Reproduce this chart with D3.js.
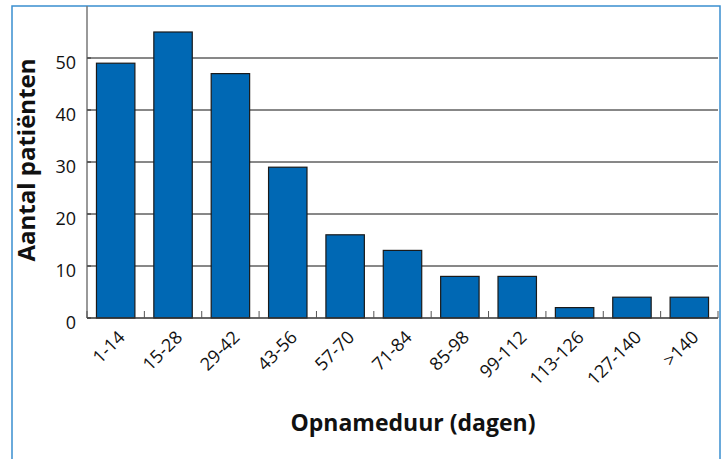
<!DOCTYPE html>
<html>
<head>
<meta charset="utf-8">
<script src="https://cdn.jsdelivr.net/npm/d3@7"></script>
<style>
  body { margin: 0; background: #fff; }
  svg text { font-family: "Open Sans", "Noto Sans", sans-serif; fill: #111; }
</style>
</head>
<body>
<div id="container"></div>
<script>
const categories = ["1-14", "15-28", "29-42", "43-56", "57-70", "71-84", "85-98", "99-112", "113-126", "127-140", ">140"];
const patients = [49, 55, 47, 29, 16, 13, 8, 8, 2, 4, 4];
const yTicks = [0, 10, 20, 30, 40, 50];

const width = 722, height = 459;
const plot = { left: 87, right: 718, top: 6, bottom: 318 };

const svg = d3.select("#container").append("svg")
    .attr("width", width)
    .attr("height", height);

// outer frame (blue, open at bottom)
svg.append("path")
    .attr("d", `M12,${height} L12,6 L720,6 L720,${height}`)
    .attr("fill", "none")
    .attr("stroke", "#3a8fd0")
    .attr("stroke-width", 1.5);

const x = d3.scaleBand()
    .domain(categories)
    .range([plot.left, plot.right])
    .paddingInner(0.33)
    .paddingOuter(0.165);

const y = d3.scaleLinear()
    .domain([0, 60])
    .range([plot.bottom, plot.top]);

// gridlines
svg.append("g")
    .selectAll("line")
    .data(yTicks.filter(d => d > 0))
    .enter()
    .append("line")
    .attr("x1", plot.left)
    .attr("x2", plot.right)
    .attr("y1", d => y(d))
    .attr("y2", d => y(d))
    .attr("stroke", "#111")
    .attr("stroke-width", 1);

// bars
svg.append("g")
    .selectAll("rect")
    .data(patients)
    .enter()
    .append("rect")
    .attr("x", (d, i) => x(categories[i]))
    .attr("y", d => y(d))
    .attr("width", x.bandwidth())
    .attr("height", d => y(0) - y(d))
    .attr("fill", "#0068b4")
    .attr("stroke", "#1a1a1a")
    .attr("stroke-width", 1.2);

// y axis line
svg.append("line")
    .attr("x1", plot.left).attr("x2", plot.left)
    .attr("y1", plot.top).attr("y2", plot.bottom)
    .attr("stroke", "#777")
    .attr("stroke-width", 1.5);

// small y ticks inside the axis
svg.append("g")
    .selectAll("line")
    .data(yTicks)
    .enter()
    .append("line")
    .attr("x1", plot.left)
    .attr("x2", plot.left + 4)
    .attr("y1", d => y(d))
    .attr("y2", d => y(d))
    .attr("stroke", "#333")
    .attr("stroke-width", 1);

// baseline
svg.append("line")
    .attr("x1", plot.left).attr("x2", plot.right)
    .attr("y1", plot.bottom).attr("y2", plot.bottom)
    .attr("stroke", "#333")
    .attr("stroke-width", 1.5);

// small tick marks between categories
const step = x.step();
svg.append("g")
    .selectAll("line")
    .data(d3.range(categories.length + 1))
    .enter()
    .append("line")
    .attr("x1", i => plot.left + i * step)
    .attr("x2", i => plot.left + i * step)
    .attr("y1", plot.bottom)
    .attr("y2", plot.bottom - 7)
    .attr("stroke", "#555")
    .attr("stroke-width", 1);

// y tick labels
svg.append("g")
    .selectAll("text")
    .data(yTicks)
    .enter()
    .append("text")
    .attr("x", 76)
    .attr("y", d => y(d) + 5)
    .attr("dy", "0.35em")
    .attr("text-anchor", "end")
    .style("font-size", "18px")
    .text(d => d);

// x tick labels, rotated
svg.append("g")
    .selectAll("text")
    .data(categories)
    .enter()
    .append("text")
    .attr("transform", d => `translate(${x(d) + x.bandwidth() / 2 + 6},${plot.bottom + 16}) rotate(-45)`)
    .attr("text-anchor", "end")
    .attr("dy", "0.35em")
    .style("font-size", "18px")
    .text(d => d);

// axis titles
svg.append("text")
    .attr("x", 413)
    .attr("y", 431)
    .attr("text-anchor", "middle")
    .style("font-size", "23px")
    .style("font-weight", "bold")
    .text("Opnameduur (dagen)");

svg.append("text")
    .attr("transform", "translate(35,160) rotate(-90)")
    .attr("text-anchor", "middle")
    .style("font-size", "24px")
    .style("font-weight", "bold")
    .text("Aantal patiënten");
</script>
</body>
</html>
